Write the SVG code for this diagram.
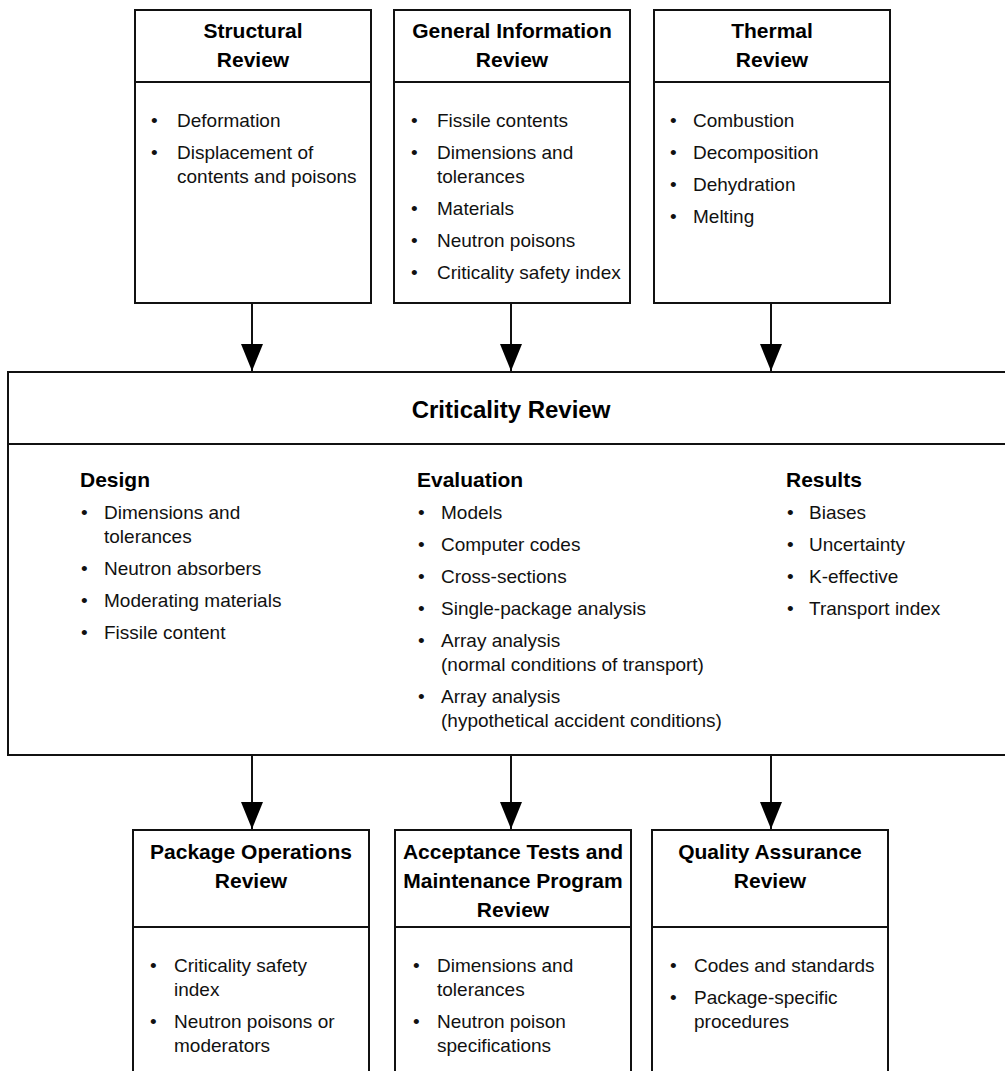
<svg xmlns="http://www.w3.org/2000/svg" width="1005" height="1071" viewBox="0 0 1005 1071">
<style>
  .box { fill: #fff; stroke: #111; stroke-width: 2; }
  .div { stroke: #111; stroke-width: 2; }
  .title { font-family: "Liberation Sans", Arial, sans-serif; font-size: 21px; font-weight: bold; fill: #000; text-anchor: middle; }
  .big { font-family: "Liberation Sans", Arial, sans-serif; font-size: 24px; font-weight: bold; fill: #000; text-anchor: middle; }
  .head { font-family: "Liberation Sans", Arial, sans-serif; font-size: 21px; font-weight: bold; fill: #000; }
  .txt { font-family: "Liberation Sans", Arial, sans-serif; font-size: 19px; fill: #111; }
  .conn { stroke: #111; stroke-width: 2; fill: none; }
</style>
<defs>
  <marker id="arr" markerUnits="userSpaceOnUse" markerWidth="28" markerHeight="22" refX="27" refY="11" orient="auto">
    <path d="M0,0 L27,11 L0,22 Z" fill="#000"/>
  </marker>
</defs>
<rect width="1005" height="1071" fill="#fff"/>

<g id="connectors">
  <line class="conn" x1="252" y1="303" x2="252" y2="371" marker-end="url(#arr)"/>
  <line class="conn" x1="511" y1="303" x2="511" y2="371" marker-end="url(#arr)"/>
  <line class="conn" x1="771" y1="303" x2="771" y2="371" marker-end="url(#arr)"/>
  <line class="conn" x1="252" y1="755" x2="252" y2="829" marker-end="url(#arr)"/>
  <line class="conn" x1="511" y1="755" x2="511" y2="829" marker-end="url(#arr)"/>
  <line class="conn" x1="771" y1="755" x2="771" y2="829" marker-end="url(#arr)"/>
</g>

<g id="structural">
  <rect class="box" x="135" y="10" width="236" height="293"/>
  <line class="div" x1="135" y1="82" x2="371" y2="82"/>
  <text class="title" x="253" y="38">Structural</text>
  <text class="title" x="253" y="67">Review</text>
  <text class="txt" x="151" y="127">•</text><text class="txt" x="177" y="127">Deformation</text>
  <text class="txt" x="151" y="159">•</text><text class="txt" x="177" y="159">Displacement of</text>
  <text class="txt" x="177" y="183">contents and poisons</text>
</g>

<g id="general-information">
  <rect class="box" x="394" y="10" width="236" height="293"/>
  <line class="div" x1="394" y1="82" x2="630" y2="82"/>
  <text class="title" x="512" y="38">General Information</text>
  <text class="title" x="512" y="67">Review</text>
  <text class="txt" x="411" y="127">•</text><text class="txt" x="437" y="127">Fissile contents</text>
  <text class="txt" x="411" y="159">•</text><text class="txt" x="437" y="159">Dimensions and</text>
  <text class="txt" x="437" y="183">tolerances</text>
  <text class="txt" x="411" y="215">•</text><text class="txt" x="437" y="215">Materials</text>
  <text class="txt" x="411" y="247">•</text><text class="txt" x="437" y="247">Neutron poisons</text>
  <text class="txt" x="411" y="279">•</text><text class="txt" x="437" y="279">Criticality safety index</text>
</g>

<g id="thermal">
  <rect class="box" x="654" y="10" width="236" height="293"/>
  <line class="div" x1="654" y1="82" x2="890" y2="82"/>
  <text class="title" x="772" y="38">Thermal</text>
  <text class="title" x="772" y="67">Review</text>
  <text class="txt" x="670" y="127">•</text><text class="txt" x="693" y="127">Combustion</text>
  <text class="txt" x="670" y="159">•</text><text class="txt" x="693" y="159">Decomposition</text>
  <text class="txt" x="670" y="191">•</text><text class="txt" x="693" y="191">Dehydration</text>
  <text class="txt" x="670" y="223">•</text><text class="txt" x="693" y="223">Melting</text>
</g>

<g id="criticality">
  <rect class="box" x="8" y="372" width="1010" height="383"/>
  <line class="div" x1="8" y1="444" x2="1010" y2="444"/>
  <text class="big" x="511" y="418">Criticality Review</text>
  <text class="head" x="80" y="487">Design</text>
  <text class="txt" x="81" y="519">•</text><text class="txt" x="104" y="519">Dimensions and</text>
  <text class="txt" x="104" y="543">tolerances</text>
  <text class="txt" x="81" y="575">•</text><text class="txt" x="104" y="575">Neutron absorbers</text>
  <text class="txt" x="81" y="607">•</text><text class="txt" x="104" y="607">Moderating materials</text>
  <text class="txt" x="81" y="639">•</text><text class="txt" x="104" y="639">Fissile content</text>

  <text class="head" x="417" y="487">Evaluation</text>
  <text class="txt" x="418" y="519">•</text><text class="txt" x="441" y="519">Models</text>
  <text class="txt" x="418" y="551">•</text><text class="txt" x="441" y="551">Computer codes</text>
  <text class="txt" x="418" y="583">•</text><text class="txt" x="441" y="583">Cross-sections</text>
  <text class="txt" x="418" y="615">•</text><text class="txt" x="441" y="615">Single-package analysis</text>
  <text class="txt" x="418" y="647">•</text><text class="txt" x="441" y="647">Array analysis</text>
  <text class="txt" x="441" y="671">(normal conditions of transport)</text>
  <text class="txt" x="418" y="703">•</text><text class="txt" x="441" y="703">Array analysis</text>
  <text class="txt" x="441" y="727">(hypothetical accident conditions)</text>

  <text class="head" x="786" y="487">Results</text>
  <text class="txt" x="787" y="519">•</text><text class="txt" x="809" y="519">Biases</text>
  <text class="txt" x="787" y="551">•</text><text class="txt" x="809" y="551">Uncertainty</text>
  <text class="txt" x="787" y="583">•</text><text class="txt" x="809" y="583">K-effective</text>
  <text class="txt" x="787" y="615">•</text><text class="txt" x="809" y="615">Transport index</text>
</g>

<g id="package-operations">
  <rect class="box" x="133" y="830" width="236" height="260"/>
  <line class="div" x1="133" y1="927" x2="369" y2="927"/>
  <text class="title" x="251" y="859">Package Operations</text>
  <text class="title" x="251" y="888">Review</text>
  <text class="txt" x="150" y="972">•</text><text class="txt" x="174" y="972">Criticality safety</text>
  <text class="txt" x="174" y="996">index</text>
  <text class="txt" x="150" y="1028">•</text><text class="txt" x="174" y="1028">Neutron poisons or</text>
  <text class="txt" x="174" y="1052">moderators</text>
</g>

<g id="acceptance-tests">
  <rect class="box" x="395" y="830" width="236" height="260"/>
  <line class="div" x1="395" y1="927" x2="631" y2="927"/>
  <text class="title" x="513" y="859">Acceptance Tests and</text>
  <text class="title" x="513" y="888">Maintenance Program</text>
  <text class="title" x="513" y="917">Review</text>
  <text class="txt" x="413" y="972">•</text><text class="txt" x="437" y="972">Dimensions and</text>
  <text class="txt" x="437" y="996">tolerances</text>
  <text class="txt" x="413" y="1028">•</text><text class="txt" x="437" y="1028">Neutron poison</text>
  <text class="txt" x="437" y="1052">specifications</text>
</g>

<g id="quality-assurance">
  <rect class="box" x="652" y="830" width="236" height="260"/>
  <line class="div" x1="652" y1="927" x2="888" y2="927"/>
  <text class="title" x="770" y="859">Quality Assurance</text>
  <text class="title" x="770" y="888">Review</text>
  <text class="txt" x="670" y="972">•</text><text class="txt" x="694" y="972">Codes and standards</text>
  <text class="txt" x="670" y="1004">•</text><text class="txt" x="694" y="1004">Package-specific</text>
  <text class="txt" x="694" y="1028">procedures</text>
</g>
</svg>
